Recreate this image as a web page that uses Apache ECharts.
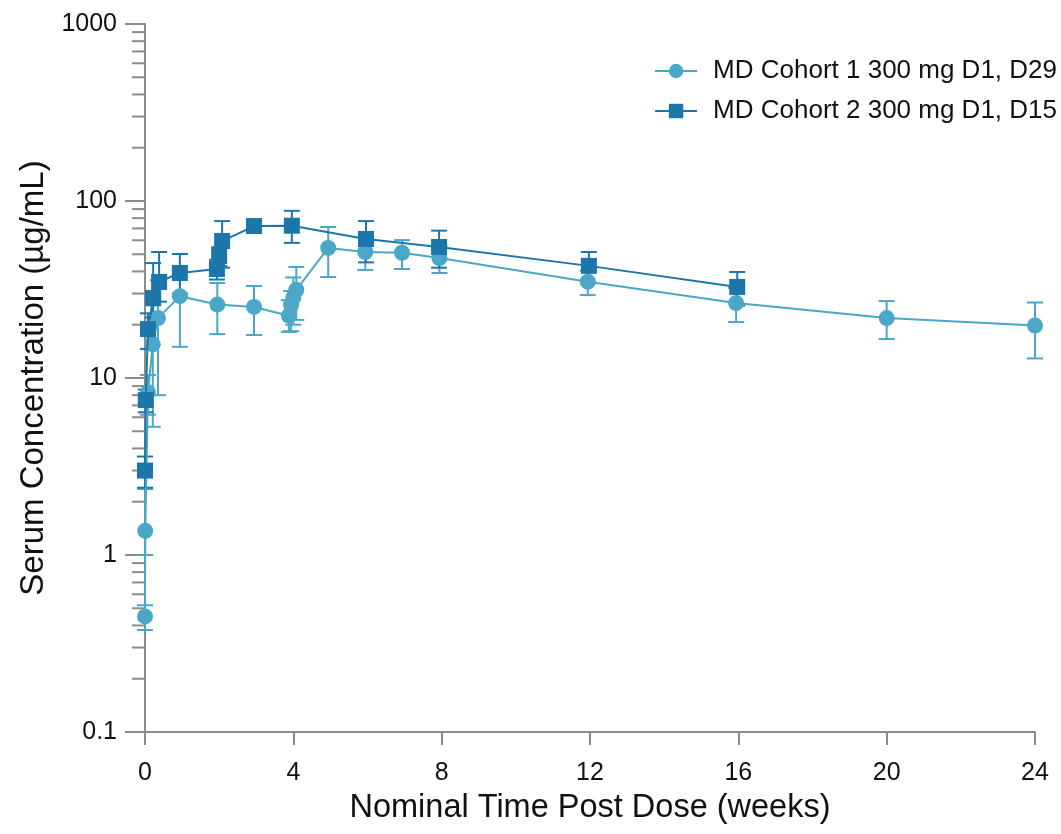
<!DOCTYPE html>
<html>
<head>
<meta charset="utf-8">
<script src="https://cdn.jsdelivr.net/npm/echarts@6.0.0/dist/echarts.min.js"></script>
<style>
  html, body { margin: 0; padding: 0; background: #ffffff; }
  #chart { width: 1061px; height: 834px; }
</style>
</head>
<body>
<div id="chart"></div>
<script>
// Serum concentration (µg/mL) vs nominal time (weeks), mean with error bars
const cohort1Name = 'MD Cohort 1 300 mg D1, D29';
const cohort2Name = 'MD Cohort 2 300 mg D1, D15';

const weeksC1 = [0, 0.005, 0.08, 0.21, 0.35, 0.94, 1.95, 2.94, 3.88, 3.94, 4.0, 4.08, 4.94, 5.94, 6.93, 7.94, 11.94, 15.94, 20.0, 24.0];
const concC1  = [0.45, 1.37, 8.3, 15.5, 21.8, 29.0, 26.0, 25.2, 22.5, 26.0, 28.5, 31.5, 54.3, 51.5, 51.0, 47.6, 35.0, 26.5, 21.8, 19.8];
const lowC1   = [0.377, 1.0, 6.2, 5.3, 8.0, 15.0, 17.7, 17.5, 18.2, 18.4, 20.0, 21.3, 37.2, 40.8, 41.3, 39.2, 29.4, 20.7, 16.6, 12.9];
const highC1  = [0.52, 2.36, 10.4, 25.7, 35.6, 43.0, 34.4, 33.1, 27.5, 31.0, 37.0, 42.4, 71.3, 62.2, 60.1, 56.0, 40.4, 32.3, 27.2, 26.7];

const weeksC2 = [0.0, 0.02, 0.08, 0.22, 0.38, 0.94, 1.94, 2.0, 2.08, 2.94, 3.96, 5.96, 7.93, 11.97, 15.97];
const concC2  = [3.0, 7.5, 18.9, 28.3, 34.9, 39.2, 41.3, 48.9, 59.4, 72.2, 72.5, 61.0, 55.0, 43.0, 32.7];
const lowC2   = [2.4, 6.4, 14.6, 22.0, 27.0, 30.0, 36.0, 43.0, 42.0, 67.0, 58.0, 45.0, 42.0, 34.5, 25.7];
const highC2  = [3.6, 8.6, 23.2, 44.6, 51.5, 50.2, 46.5, 54.8, 77.0, 77.5, 88.0, 77.0, 68.0, 51.5, 39.7];

// Intermediate log-axis tick positions (2..9 within each decade)
const minorTickValues = [0.2,0.3,0.4,0.5,0.6,0.7,0.8,0.9, 2,3,4,5,6,7,8,9, 20,30,40,50,60,70,80,90, 200,300,400,500,600,700,800,900];

const colorC1 = '#4aa7c7';
const colorC2 = '#1c76aa';
const axisColor = '#8c8c8c';
const textColor = '#111111';
const fontFamily = '"Liberation Sans", Arial, Helvetica, sans-serif';

const zip = (xs, ys) => xs.map((x, i) => [x, ys[i]]);
const zip3 = (xs, a, b) => xs.map((x, i) => [x, a[i], b[i]]);

function errorBarRenderer(color) {
  return function (params, api) {
    const x = api.value(0);
    const lo = api.coord([x, api.value(1)]);
    const hi = api.coord([x, api.value(2)]);
    const half = 8;
    const style = { stroke: color, lineWidth: 2 };
    return {
      type: 'group',
      children: [
        { type: 'line', shape: { x1: lo[0], y1: lo[1], x2: hi[0], y2: hi[1] }, style: style },
        { type: 'line', shape: { x1: lo[0] - half, y1: lo[1], x2: lo[0] + half, y2: lo[1] }, style: style },
        { type: 'line', shape: { x1: hi[0] - half, y1: hi[1], x2: hi[0] + half, y2: hi[1] }, style: style }
      ]
    };
  };
}

function minorTickRenderer(params, api) {
  const p = api.coord([0, api.value(0)]);
  return {
    type: 'line',
    shape: { x1: p[0] - 13, y1: p[1], x2: p[0], y2: p[1] },
    style: { stroke: axisColor, lineWidth: 2 }
  };
}

const chart = echarts.init(document.getElementById('chart'), null, { renderer: 'canvas' });

chart.setOption({
  animation: false,
  backgroundColor: '#ffffff',
  textStyle: { fontFamily: fontFamily },
  grid: { left: 145, right: 26, top: 24, bottom: 102, containLabel: false },
  legend: {
    data: [cohort1Name, cohort2Name],
    orient: 'vertical',
    right: 4,
    top: 58,
    padding: 0,
    itemGap: 14,
    itemWidth: 42,
    itemHeight: 18,
    textStyle: { fontSize: 26, color: textColor, fontFamily: fontFamily, padding: [0, 0, 0, 11] }
  },
  xAxis: {
    type: 'value',
    min: 0,
    max: 24,
    interval: 4,
    name: 'Nominal Time Post Dose (weeks)',
    nameLocation: 'middle',
    nameGap: 60,
    nameTextStyle: { fontSize: 32.5, color: textColor, fontFamily: fontFamily },
    axisLine: { show: true, onZero: false, lineStyle: { color: axisColor, width: 2 } },
    axisTick: { show: true, length: 13, lineStyle: { color: axisColor, width: 2 } },
    axisLabel: { fontSize: 25, color: textColor, margin: 29, fontFamily: fontFamily },
    splitLine: { show: false }
  },
  yAxis: {
    type: 'log',
    logBase: 10,
    min: 0.1,
    max: 1000,
    name: 'Serum Concentration (µg/mL)',
    nameLocation: 'middle',
    nameGap: 84,
    nameTextStyle: { fontSize: 33, color: textColor, fontFamily: fontFamily },
    axisLine: { show: true, lineStyle: { color: axisColor, width: 2 } },
    axisTick: { show: true, length: 20, lineStyle: { color: axisColor, width: 2 } },
    axisLabel: {
      fontSize: 25, color: textColor, margin: 28, fontFamily: fontFamily,
      formatter: v => String(+v.toPrecision(6))
    },
    splitLine: { show: false },
    minorTick: { show: false }
  },
  series: [
    {
      name: 'minorTicks',
      type: 'custom',
      silent: true,
      clip: false,
      z: 1,
      renderItem: minorTickRenderer,
      data: minorTickValues.map(v => [v]),
      encode: { y: 0 }
    },
    {
      name: cohort1Name + ' SD',
      type: 'custom',
      silent: true,
      z: 2,
      renderItem: errorBarRenderer(colorC1),
      data: zip3(weeksC1, lowC1, highC1),
      encode: { x: 0, y: [1, 2] }
    },
    {
      name: cohort2Name + ' SD',
      type: 'custom',
      silent: true,
      z: 3,
      renderItem: errorBarRenderer(colorC2),
      data: zip3(weeksC2, lowC2, highC2),
      encode: { x: 0, y: [1, 2] }
    },
    {
      name: cohort1Name,
      type: 'line',
      z: 4,
      data: zip(weeksC1, concC1),
      symbol: 'circle',
      symbolSize: 16,
      showSymbol: true,
      showAllSymbol: true,
      color: colorC1,
      itemStyle: { color: colorC1 },
      lineStyle: { color: colorC1, width: 2 }
    },
    {
      name: cohort2Name,
      type: 'line',
      z: 5,
      data: zip(weeksC2, concC2),
      symbol: 'rect',
      symbolSize: 16,
      showSymbol: true,
      showAllSymbol: true,
      color: colorC2,
      itemStyle: { color: colorC2 },
      lineStyle: { color: colorC2, width: 2 }
    }
  ]
});
</script>
</body>
</html>
